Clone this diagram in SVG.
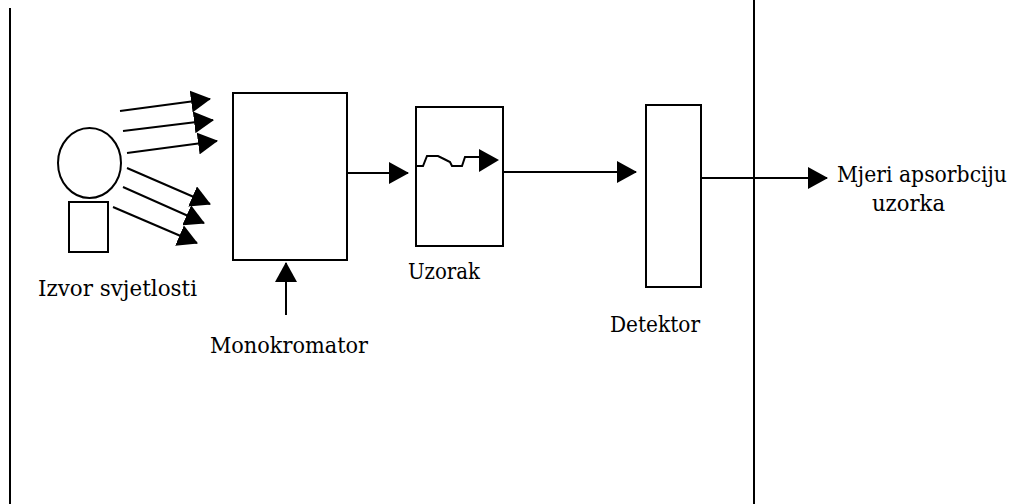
<svg xmlns="http://www.w3.org/2000/svg" width="1019" height="504" viewBox="0 0 1019 504">
<style>
  .s { fill: none; stroke: #000; stroke-width: 2; }
  .b { fill: #fff; stroke: #000; stroke-width: 2; }
  .t { font-family: 'DejaVu Serif', 'Liberation Serif', serif; font-size: 22px; fill: #000; }
</style>
<defs>
  <marker id="ah" markerUnits="userSpaceOnUse" markerWidth="20" markerHeight="22" refX="19" refY="11" orient="auto" viewBox="0 0 20 22">
    <path d="M0,0 L20,11 L0,22 z" fill="#000"/>
  </marker>
</defs>
<rect width="1019" height="504" fill="#fff"/>
<g id="frame">
  <line class="s" x1="10" y1="8" x2="10" y2="504"/>
  <line class="s" x1="754" y1="0" x2="754" y2="504"/>
</g>
<g id="source">
  <ellipse class="b" cx="89.5" cy="163" rx="31.5" ry="35"/>
  <rect class="b" x="69" y="202" width="39" height="50"/>
  <text class="t" x="38" y="296" textLength="159" lengthAdjust="spacingAndGlyphs">Izvor svjetlosti</text>
</g>
<g id="monochromator">
  <rect class="b" x="233" y="93" width="114" height="167"/>
  <text class="t" x="210" y="353" textLength="158" lengthAdjust="spacingAndGlyphs">Monokromator</text>
</g>
<g id="sample">
  <rect class="b" x="416" y="107" width="87" height="139"/>
  <path class="s" d="M417,166 L423,166 L427,156 L438,156 L444,159 L450,162 L452,166 L462,166 L465,157 L481,157"/>
  <polygon points="479,149 499,160 479,172" fill="#000"/>
  <text class="t" x="408" y="279" textLength="72" lengthAdjust="spacingAndGlyphs">Uzorak</text>
</g>
<g id="detector">
  <rect class="b" x="646" y="105" width="55" height="182"/>
  <text class="t" x="610" y="332" textLength="90" lengthAdjust="spacingAndGlyphs">Detektor</text>
</g>
<g id="output">
  <text class="t" x="837" y="182" textLength="170" lengthAdjust="spacingAndGlyphs">Mjeri apsorbciju</text>
  <text class="t" x="872" y="211" textLength="73" lengthAdjust="spacingAndGlyphs">uzorka</text>
</g>
<g id="connectors">
  <line class="s" x1="120" y1="111" x2="210" y2="99" marker-end="url(#ah)"/>
  <line class="s" x1="123" y1="131" x2="213" y2="120" marker-end="url(#ah)"/>
  <line class="s" x1="127" y1="153" x2="217" y2="141" marker-end="url(#ah)"/>
  <line class="s" x1="127" y1="168" x2="210" y2="204" marker-end="url(#ah)"/>
  <line class="s" x1="123" y1="187" x2="204" y2="223" marker-end="url(#ah)"/>
  <line class="s" x1="113" y1="207" x2="197" y2="243" marker-end="url(#ah)"/>
  <line class="s" x1="286" y1="315" x2="286" y2="263" marker-end="url(#ah)"/>
  <line class="s" x1="348" y1="173" x2="408" y2="173" marker-end="url(#ah)"/>
  <line class="s" x1="503" y1="172" x2="636" y2="172" marker-end="url(#ah)"/>
  <line class="s" x1="701" y1="178" x2="827" y2="178" marker-end="url(#ah)"/>
</g>
</svg>
